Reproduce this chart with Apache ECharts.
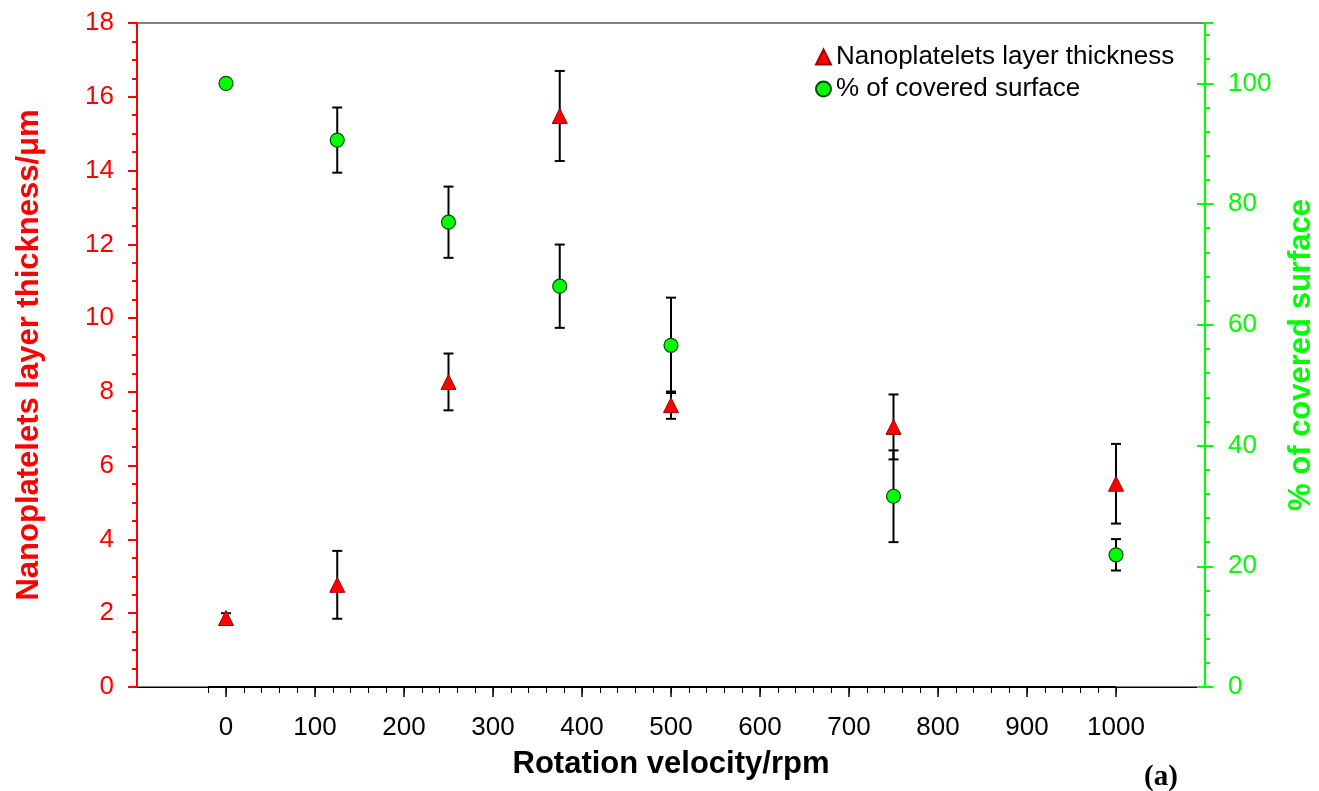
<!DOCTYPE html>
<html>
<head>
<meta charset="utf-8">
<script src="https://cdn.jsdelivr.net/npm/echarts@6/dist/echarts.min.js"></script>
<style>
  html, body { margin: 0; padding: 0; background: #fff; }
  #chart { width: 1319px; height: 791px; }
</style>
</head>
<body>
<div id="chart"></div>
<script>
// rotation velocity (rpm)
var rpm = [0, 125, 250, 375, 500, 750, 1000];
// nanoplatelets layer thickness (um) and error
var thickness = [1.87, 2.77, 8.27, 15.48, 7.64, 7.05, 5.51];
var thicknessErr = [0.13, 0.92, 0.77, 1.22, 0.37, 0.88, 1.08];
// % of covered surface and error
var covered = [100, 90.6, 77.0, 66.4, 56.6, 31.6, 21.9];
var coveredErr = [0, 5.4, 5.9, 6.9, 7.9, 7.6, 2.6];
// x tick positions
var xMajorTicks = [0, 100, 200, 300, 400, 500, 600, 700, 800, 900, 1000];
var xMinorTicks = [-20, 0, 20, 40, 60, 80, 100, 120, 140, 160, 180, 200, 220, 240, 260, 280, 300,
    320, 340, 360, 380, 400, 420, 440, 460, 480, 500, 520, 540, 560, 580, 600, 620, 640, 660, 680,
    700, 720, 740, 760, 780, 800, 820, 840, 860, 880, 900, 920, 940, 960, 980, 1000];
// right axis major ticks (drawn crossing the axis)
var rightMajorTicks = [0, 20, 40, 60, 80, 100];

var FONT = '"Liberation Sans", Arial, sans-serif';
var RED = '#ff0000';
var GREEN = '#00ff00';

function pts(ys) {
    return rpm.map(function (x, i) { return [x, ys[i]]; });
}
function errRows(ys, es) {
    return rpm.map(function (x, i) { return [x, ys[i] - es[i], ys[i] + es[i]]; });
}

function renderErr(params, api) {
    var x = api.value(0), lo = api.value(1), hi = api.value(2);
    if (hi - lo <= 0) return null;
    var top = api.coord([x, hi]);
    var bot = api.coord([x, lo]);
    var w = 5;
    var st = { stroke: '#000', lineWidth: 2 };
    return {
        type: 'group',
        children: [
            { type: 'line', shape: { x1: top[0], y1: top[1], x2: bot[0], y2: bot[1] }, style: st },
            { type: 'line', shape: { x1: top[0] - w, y1: top[1], x2: top[0] + w, y2: top[1] }, style: st },
            { type: 'line', shape: { x1: bot[0] - w, y1: bot[1], x2: bot[0] + w, y2: bot[1] }, style: st }
        ]
    };
}

var chart = echarts.init(document.getElementById('chart'));
var option = {
    backgroundColor: '#fff',
    animation: false,
    grid: { left: 137, right: 114, top: 23, bottom: 104, containLabel: false, outerBoundsMode: 'none',
        show: true, borderColor: '#000', borderWidth: 1, backgroundColor: 'transparent' },
    legend: {
        orient: 'vertical',
        left: 810,
        top: 39,
        itemWidth: 15,
        itemHeight: 15,
        itemGap: 6,
        textStyle: { fontFamily: FONT, fontSize: 26, color: '#000' },
        data: [
            { name: 'Nanoplatelets layer thickness', icon: 'triangle' },
            { name: '% of covered surface', icon: 'circle' }
        ]
    },
    xAxis: [
        {
            type: 'value', min: -100, max: 1100, interval: 100,
            name: 'Rotation velocity/rpm', nameLocation: 'middle', nameGap: 62,
            nameTextStyle: { fontFamily: FONT, fontSize: 31, fontWeight: 'bold', color: '#000' },
            axisLine: { show: true, onZero: false, lineStyle: { color: '#000', width: 1 } },
            axisTick: { show: true, inside: false, length: 10, customValues: xMajorTicks,
                lineStyle: { color: '#000', width: 1.5 } },
            axisLabel: { fontFamily: FONT, fontSize: 26, color: '#000', margin: 28,
                customValues: xMajorTicks, formatter: function (v) { return String(v); } },
            splitLine: { show: false }
        },
        {
            type: 'value', min: -100, max: 1100, position: 'bottom',
            axisLine: { show: false, onZero: false },
            axisTick: { show: true, inside: false, length: 6, customValues: xMinorTicks,
                lineStyle: { color: '#000', width: 1 } },
            axisLabel: { show: false },
            splitLine: { show: false }
        }
    ],
    yAxis: [
        {
            type: 'value', min: 0, max: 18, interval: 2, position: 'left',
            name: 'Nanoplatelets layer thickness/\u03bcm', nameLocation: 'middle', nameGap: 92,
            nameTextStyle: { fontFamily: FONT, fontSize: 31, fontWeight: 'bold', color: RED },
            axisLine: { show: true, onZero: false, lineStyle: { color: RED, width: 2 } },
            axisTick: { show: true, inside: false, length: 9, lineStyle: { color: RED, width: 2 } },
            minorTick: { show: true, splitNumber: 4, length: 5, lineStyle: { color: RED, width: 2 } },
            axisLabel: { fontFamily: FONT, fontSize: 26, color: RED, margin: 23 },
            splitLine: { show: false }
        },
        {
            type: 'value', min: 0, max: 110, interval: 20, position: 'right',
            name: '% of covered surface', nameLocation: 'middle', nameGap: 81,
            nameRotate: 90,
            nameTextStyle: { fontFamily: FONT, fontSize: 31, fontWeight: 'bold', color: GREEN },
            axisLine: { show: true, onZero: false, lineStyle: { color: GREEN, width: 2 } },
            axisTick: { show: true, inside: false, length: 8, lineStyle: { color: GREEN, width: 2 } },
            minorTick: { show: true, splitNumber: 5, length: 5, lineStyle: { color: GREEN, width: 2 } },
            axisLabel: { fontFamily: FONT, fontSize: 26, color: GREEN, margin: 23, showMaxLabel: false },
            splitLine: { show: false }
        },
        {
            // inner half of the crossing major ticks on the right axis
            type: 'value', min: 0, max: 110, position: 'right',
            axisLine: { show: false, onZero: false },
            axisTick: { show: true, inside: true, length: 8, customValues: rightMajorTicks,
                lineStyle: { color: GREEN, width: 2 } },
            axisLabel: { show: false },
            splitLine: { show: false }
        }
    ],
    graphic: [
        { type: 'text', left: 1144, top: 763,
          style: { text: '(a)', font: 'bold 29px "Liberation Serif", "Times New Roman", serif', fill: '#000' } }
    ],
    series: [
        {
            type: 'custom', name: 'errThick', xAxisIndex: 0, yAxisIndex: 0, z: 1,
            renderItem: renderErr, data: errRows(thickness, thicknessErr), silent: true,
            encode: { x: 0, y: [1, 2] }
        },
        {
            type: 'custom', name: 'errCov', xAxisIndex: 0, yAxisIndex: 1, z: 1,
            renderItem: renderErr, data: errRows(covered, coveredErr), silent: true,
            encode: { x: 0, y: [1, 2] }
        },
        {
            type: 'scatter', name: 'Nanoplatelets layer thickness', xAxisIndex: 0, yAxisIndex: 0, z: 5,
            symbol: 'triangle', symbolSize: 15,
            itemStyle: { color: RED, borderColor: '#a00000', borderWidth: 1, opacity: 1 },
            data: pts(thickness),
            markLine: {
                silent: true, symbol: 'none', label: { show: false },
                lineStyle: { color: '#000', width: 2, type: 'solid' },
                data: [[{ coord: [-20, 0] }, { coord: [1000, 0] }]]
            }
        },
        {
            type: 'scatter', name: '% of covered surface', xAxisIndex: 0, yAxisIndex: 1, z: 5,
            symbol: 'circle', symbolSize: 14,
            itemStyle: { color: GREEN, borderColor: '#0a4a0a', borderWidth: 1.2, opacity: 1 },
            data: pts(covered)
        }
    ]
};
chart.setOption(option);
window.addEventListener('resize', chart.resize);
</script>
</body>
</html>
